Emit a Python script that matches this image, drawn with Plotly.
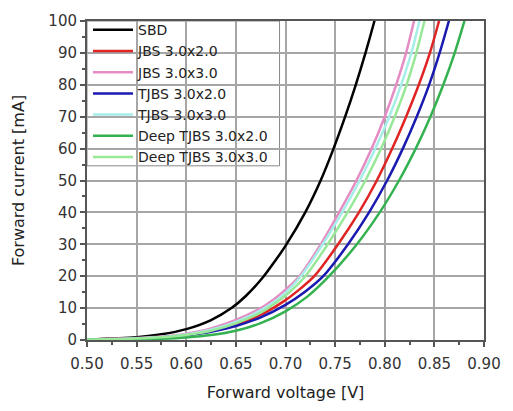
import plotly.graph_objects as go

names = ["SBD", "JBS 3.0x2.0", "JBS 3.0x3.0", "TJBS 3.0x2.0", "TJBS 3.0x3.0",
         "Deep TJBS 3.0x2.0", "Deep TJBS 3.0x3.0"]
colors = ["#000000", "#e02424", "#e58cc4", "#1a1ab0", "#a6eee8", "#33b24f", "#98e898"]

sbd_v = [0.50, 0.55, 0.575, 0.60, 0.625, 0.6459, 0.66, 0.6769, 0.69, 0.70, 0.7199, 0.7354, 0.7484, 0.7601, 0.7708, 0.7806, 0.7896, 0.7940]
sbd_i = [0.2, 0.9, 1.77, 3.4, 6.25, 10.1, 13.8, 19.5, 25.0, 29.5, 40, 50, 60, 70, 80, 90, 100, 105]

jbs32_v = [0.50, 0.55, 0.575, 0.60, 0.625, 0.65, 0.675, 0.70, 0.715, 0.729, 0.753, 0.774, 0.792, 0.8075, 0.8215, 0.8343, 0.8455, 0.8547, 0.8590]
jbs32_i = [0.1, 0.46, 0.86, 1.57, 2.79, 4.78, 7.88, 12.5, 16.1, 20, 30, 40, 50, 60, 70, 80, 90, 100, 105]

jbs33_v = [0.50, 0.55, 0.575, 0.60, 0.625, 0.65, 0.675, 0.69, 0.70, 0.714, 0.7355, 0.754, 0.7715, 0.7868, 0.800, 0.8115, 0.8215, 0.8295, 0.8332]
jbs33_i = [0.15, 0.6, 1.1, 2.0, 3.65, 6.3, 10.0, 13.2, 15.8, 20, 30, 40, 50, 60, 70, 80, 90, 100, 105]

tjbs32_v = [0.50, 0.55, 0.575, 0.60, 0.625, 0.65, 0.675, 0.70, 0.72, 0.738, 0.763, 0.7842, 0.8024, 0.8182, 0.8322, 0.8447, 0.8553, 0.8646, 0.8690]
tjbs32_i = [0.1, 0.43, 0.82, 1.49, 2.61, 4.4, 7.1, 11.0, 15.2, 20, 30, 40, 50, 60, 70, 80, 90, 100, 105]

tjbs33_v = [0.50, 0.55, 0.575, 0.60, 0.625, 0.65, 0.675, 0.69, 0.70, 0.7155, 0.7375, 0.757, 0.7748, 0.7905, 0.8045, 0.8165, 0.8268, 0.8350, 0.8390]
tjbs33_i = [0.12, 0.5, 0.95, 1.75, 3.25, 5.7, 9.3, 12.3, 14.8, 20, 30, 40, 50, 60, 70, 80, 90, 100, 105]

deep32_v = [0.50, 0.55, 0.575, 0.60, 0.625, 0.65, 0.675, 0.70, 0.722, 0.7439, 0.7719, 0.7949, 0.8144, 0.8312, 0.846, 0.859, 0.8705, 0.8803, 0.8850]
deep32_i = [0.05, 0.21, 0.42, 0.81, 1.55, 2.9, 5.3, 9.0, 13.6, 20, 30, 40, 50, 60, 70, 80, 90, 100, 105]

deep33_v = [0.50, 0.55, 0.575, 0.60, 0.625, 0.65, 0.675, 0.69, 0.70, 0.720, 0.7425, 0.7625, 0.7805, 0.7963, 0.810, 0.822, 0.8318, 0.8400, 0.8440]
deep33_i = [0.1, 0.45, 0.85, 1.55, 2.9, 5.2, 8.6, 11.6, 13.9, 20, 30, 40, 50, 60, 70, 80, 90, 100, 105]

series_v = [sbd_v, jbs32_v, jbs33_v, tjbs32_v, tjbs33_v, deep32_v, deep33_v]
series_i = [sbd_i, jbs32_i, jbs33_i, tjbs32_i, tjbs33_i, deep32_i, deep33_i]

x_ticks = [0.50, 0.55, 0.60, 0.65, 0.70, 0.75, 0.80, 0.85, 0.90]
y_ticks = [0, 10, 20, 30, 40, 50, 60, 70, 80, 90, 100]

fig = go.Figure()
for n, c, v, i in zip(names, colors, series_v, series_i):
    fig.add_trace(go.Scatter(x=v, y=i, mode="lines", name=n,
                             line=dict(color=c, width=2.5, shape="spline", smoothing=0.8)))

font_family = "DejaVu Sans, Arial, sans-serif"
axis_common = dict(
    showgrid=True, gridcolor="#a6a6a6", gridwidth=2,
    showline=True, linecolor="#555555", linewidth=2, mirror=True,
    ticks="outside", ticklen=5, tickwidth=1.5, tickcolor="#555555",
    tickfont=dict(size=15, color="#333333", family=font_family),
    zeroline=False,
)
fig.update_xaxes(range=[0.5, 0.9], tickvals=x_ticks, ticktext=[f"{t:.2f}" for t in x_ticks],
                 ticklabelstandoff=4,
                 minor=dict(ticks="outside", ticklen=3, tickcolor="#555555", dtick=0.025, showgrid=False),
                 title=dict(text="Forward voltage [V]", font=dict(size=16, color="#222222", family=font_family), standoff=15),
                 **axis_common)
fig.update_yaxes(range=[0, 100], tickvals=y_ticks,
                 minor=dict(ticks="outside", ticklen=3, tickcolor="#555555", dtick=5, showgrid=False),
                 title=dict(text="Forward current [mA]", font=dict(size=16, color="#222222", family=font_family), standoff=20),
                 **axis_common)

# legend frame (white box with grey border, flush with the plot's top-left corner)
fig.add_shape(type="rect", xref="paper", yref="paper", x0=0, x1=0.485, y0=0.546, y1=1,
              fillcolor="white", line=dict(color="#888888", width=1), layer="below")

fig.update_layout(
    width=513, height=411,
    margin=dict(l=87, r=22, t=17, b=68),
    paper_bgcolor="white", plot_bgcolor="white",
    font=dict(family=font_family, color="#333333"),
    legend=dict(x=0, y=1.0245, xanchor="left", yanchor="top",
                bgcolor="rgba(0,0,0,0)", bordercolor="rgba(0,0,0,0)", borderwidth=1,
                font=dict(size=14, color="#222222", family=font_family),
                tracegroupgap=0, itemwidth=40),
)

fig.write_html("out.html", config={"displayModeBar": False},
               post_script="document.body.style.margin='0';document.body.style.padding='0';document.body.style.overflow='hidden';")
